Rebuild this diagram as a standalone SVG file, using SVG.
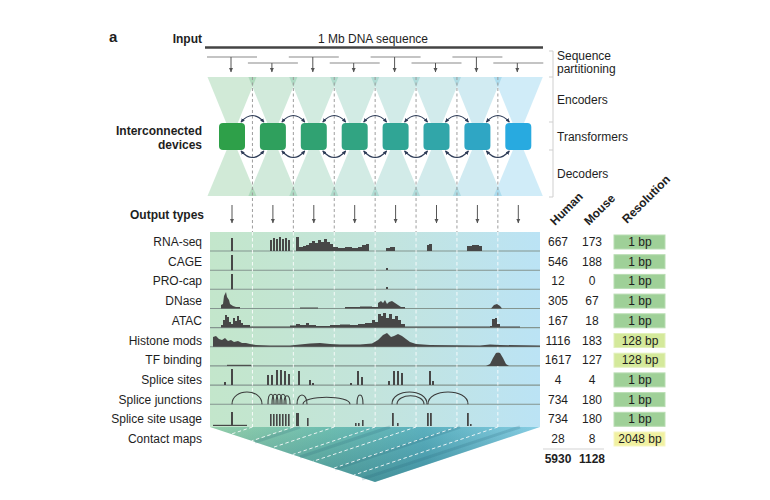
<svg xmlns="http://www.w3.org/2000/svg" width="770" height="500" viewBox="0 0 770 500">
<style>
text{font-family:"Liberation Sans",Arial,sans-serif;fill:#1e1e1e;font-size:12px}
.b{font-weight:bold}
.r{text-anchor:end}
.m{text-anchor:middle}
.part{stroke:#8a8a8a;stroke-width:1.2;fill:none}
.arr{stroke:#555;stroke-width:1;fill:none;marker-end:url(#ah)}
.tarc{stroke:#2e3c57;stroke-width:1.2;fill:none;marker-start:url(#ta);marker-end:url(#ta)}
.dg{stroke:#9e9e9e;stroke-width:1;stroke-dasharray:3,2.5;fill:none}
.dw{stroke:#ffffff;stroke-width:1;stroke-dasharray:3.5,2.5;fill:none;opacity:.85}
.sep{stroke:#84958f;stroke-width:1.1}
.sig{fill:#474747}
.jn{stroke:#3a3a3a;stroke-width:1.1;fill:none}
.res1{fill:#9fd098;stroke:#b9ddb3;stroke-width:1}
.res2{fill:#d4e99b;stroke:#e2f0bb;stroke-width:1}
.res3{fill:#f1f1a2;stroke:#f6f6c4;stroke-width:1}
.tri{opacity:.22}
</style>
<defs>
<marker id="ah" markerWidth="5" markerHeight="5" refX="4.5" refY="2.5" orient="auto" markerUnits="userSpaceOnUse"><path d="M0,0.3 L4.8,2.5 L0,4.7 z" fill="#555"/></marker>
<marker id="ta" markerWidth="5" markerHeight="5" refX="3.5" refY="2.5" orient="auto-start-reverse" markerUnits="userSpaceOnUse"><path d="M0,0.6 L4,2.5 L0,4.4 z" fill="#2e3c57"/></marker>
<linearGradient id="tbg" x1="0" y1="0" x2="1" y2="0">
<stop offset="0" stop-color="#c3e6cb"/><stop offset="0.5" stop-color="#c3e4dc"/><stop offset="1" stop-color="#bbe3f5"/>
</linearGradient>
<linearGradient id="cm" x1="0" y1="0" x2="1" y2="0">
<stop offset="0" stop-color="#94cfaa"/><stop offset="0.35" stop-color="#6fbeb0"/><stop offset="0.65" stop-color="#5cb1bf"/><stop offset="1" stop-color="#88cee4"/>
</linearGradient>
<linearGradient id="cmv" x1="0" y1="0" x2="0" y2="1">
<stop offset="0" stop-color="#0d4f66" stop-opacity="0"/><stop offset="1" stop-color="#0d4f66" stop-opacity="0.35"/>
</linearGradient>
</defs>

<!-- labels -->
<text x="109" y="42" class="b" style="font-size:15px">a</text>
<text x="202" y="43" class="b r">Input</text>
<text x="373" y="43" class="m">1 Mb DNA sequence</text>
<text x="202" y="135" class="b r">Interconnected</text>
<text x="202" y="149" class="b r">devices</text>
<text x="204" y="219" class="b r">Output types</text>

<g id="stage-labels">
<path d="M549,51 H553 V197 H549 M549,77 H553 M549,122 H553 M549,150 H553" stroke="#cfcfcf" stroke-width="1" fill="none"/>
<text x="557" y="60">Sequence</text>
<text x="557" y="73">partitioning</text>
<text x="557" y="104">Encoders</text>
<text x="557" y="141">Transformers</text>
<text x="557" y="178">Decoders</text>
</g>

<!-- input -->
<g id="input">
<line x1="205" y1="47.5" x2="543" y2="47.5" stroke="#444" stroke-width="2.6"/>
</g>

<!-- encoders / decoders -->
<g id="encoders">
<polygon class="tri" fill="#2ea049" points="207.5,77 256.5,77 232,137"/>
<polygon class="tri" fill="#2fa05d" points="248.4,77 297.4,77 272.9,137"/>
<polygon class="tri" fill="#30a272" points="289.3,77 338.3,77 313.8,137"/>
<polygon class="tri" fill="#31a482" points="330.2,77 379.2,77 354.7,137"/>
<polygon class="tri" fill="#30a595" points="371.1,77 420.1,77 395.6,137"/>
<polygon class="tri" fill="#31a6a9" points="412,77 461,77 436.5,137"/>
<polygon class="tri" fill="#2fa6c4" points="452.9,77 501.9,77 477.4,137"/>
<polygon class="tri" fill="#28aae0" points="493.8,77 542.8,77 518.3,137"/>
</g>
<g id="decoders">
<polygon class="tri" fill="#2ea049" points="207.5,196 256.5,196 232,137"/>
<polygon class="tri" fill="#2fa05d" points="248.4,196 297.4,196 272.9,137"/>
<polygon class="tri" fill="#30a272" points="289.3,196 338.3,196 313.8,137"/>
<polygon class="tri" fill="#31a482" points="330.2,196 379.2,196 354.7,137"/>
<polygon class="tri" fill="#30a595" points="371.1,196 420.1,196 395.6,137"/>
<polygon class="tri" fill="#31a6a9" points="412,196 461,196 436.5,137"/>
<polygon class="tri" fill="#2fa6c4" points="452.9,196 501.9,196 477.4,137"/>
<polygon class="tri" fill="#28aae0" points="493.8,196 542.8,196 518.3,137"/>
</g>

<!-- tracks background -->
<g id="tracks">
<rect x="210" y="232" width="330" height="195" fill="url(#tbg)"/>
<g class="sep">
<line x1="210" y1="251" x2="540" y2="251"/>
<line x1="210" y1="270.2" x2="540" y2="270.2"/>
<line x1="210" y1="289.3" x2="540" y2="289.3"/>
<line x1="210" y1="308.5" x2="540" y2="308.5"/>
<line x1="210" y1="327.6" x2="540" y2="327.6"/>
<line x1="210" y1="346.8" x2="540" y2="346.8"/>
<line x1="210" y1="365.9" x2="540" y2="365.9"/>
<line x1="210" y1="385.1" x2="540" y2="385.1"/>
<line x1="210" y1="404.2" x2="540" y2="404.2"/>
</g>
</g>

<!-- contact map -->
<g id="contact-map">
<polygon points="210,427 540,427 375,482" fill="url(#cm)"/>
<polygon points="210,427 540,427 375,482" fill="url(#cmv)"/>
<g stroke="#1f5f72" stroke-opacity="0.18" stroke-width="3" fill="none">
<line x1="300" y1="427" x2="255" y2="442"/>
<line x1="390" y1="427" x2="300" y2="457"/>
<line x1="460" y1="427" x2="335" y2="469"/>
<line x1="520" y1="427" x2="362" y2="479"/>
</g>
<g class="dw">
<line x1="252.45" y1="427" x2="231.2" y2="434.1"/>
<line x1="293.35" y1="427" x2="251.7" y2="440.9"/>
<line x1="334.25" y1="427" x2="272.1" y2="447.7"/>
<line x1="375.15" y1="427" x2="292.7" y2="454.5"/>
<line x1="416.05" y1="427" x2="313" y2="461.3"/>
<line x1="456.95" y1="427" x2="333.5" y2="468.2"/>
<line x1="497.85" y1="427" x2="353.9" y2="475"/>
</g>
</g>

<!-- dashed boundaries -->
<g id="boundaries">
<g class="dg">
<line x1="252.45" y1="77" x2="252.45" y2="232"/>
<line x1="293.35" y1="77" x2="293.35" y2="232"/>
<line x1="334.25" y1="77" x2="334.25" y2="232"/>
<line x1="375.15" y1="77" x2="375.15" y2="232"/>
<line x1="416.05" y1="77" x2="416.05" y2="232"/>
<line x1="456.95" y1="77" x2="456.95" y2="232"/>
<line x1="497.85" y1="77" x2="497.85" y2="232"/>
</g>
<g class="dw">
<line x1="252.45" y1="232" x2="252.45" y2="427"/>
<line x1="293.35" y1="232" x2="293.35" y2="427"/>
<line x1="334.25" y1="232" x2="334.25" y2="427"/>
<line x1="375.15" y1="232" x2="375.15" y2="427"/>
<line x1="416.05" y1="232" x2="416.05" y2="427"/>
<line x1="456.95" y1="232" x2="456.95" y2="427"/>
<line x1="497.85" y1="232" x2="497.85" y2="427"/>
</g>
</g>

<!-- signals -->
<g id="signals" class="sig">
<!-- RNA-seq -->
<path d="M231,251 V238 H233 V251 Z"/>
<rect x="270" y="240" width="2" height="11"/><rect x="273" y="238" width="2" height="13"/><rect x="276" y="239" width="2" height="12"/><rect x="279" y="237" width="2" height="14"/><rect x="282" y="239" width="2" height="12"/><rect x="285" y="238" width="2" height="13"/><rect x="288" y="240" width="2" height="11"/>
<path d="M296,251 V237 H299 V247 H303 V246 H306 V245 H309 V243 H312 V241 H315 V243 H318 V240 H321 V242 H324 V239 H327 V242 H330 V244 H333 V247 H338 V248 H345 V247 H352 V248 H358 V247 H362 V245 H366 V244 H369 V251 Z"/>
<path d="M386,251 V248 H390 V247 H395 V251 Z"/>
<path d="M427,251 V245 H429 V244 H432 V251 Z"/>
<path d="M467,251 V246 H472 V245 H479 V246 H482 V251 Z"/>
<!-- CAGE -->
<path d="M231,270.2 V255 H233 V270.2 Z"/><rect x="386" y="268" width="2" height="2"/>
<!-- PRO-cap -->
<path d="M231,289.3 V274 H233 V289.3 Z"/><rect x="386" y="287" width="2" height="2"/>
<!-- DNase -->
<path d="M221,308.5 V305 L223,304 L224,296 L226,292 L227,297 L229,300 L230,304 L233,306 L236,307 H240 V308.5 Z"/>
<path d="M300,308.5 V307.5 H318 V308.5 Z"/>
<path d="M345,308.5 V307 H360 V306.5 H372 V307 H378 V303 L381,301 L383,303 L385,300 L387,304 L389,302 L392,301 L395,303 L398,305 L401,307 H405 V308.5 Z"/>
<path d="M491,308.5 L494,305 L497,304 L500,306 L502,308.5 Z"/>
<!-- ATAC -->
<path d="M221,327.6 V325 H223 V320 H225 V315 H227 V317 H229 V322 H231 V324 H233 V318 H235 V321 H237 V316 H239 V320 H241 V323 H243 V325 H250 V326.5 H290 V325.5 H296 V324 H300 V325 H306 V323 H309 V325 H316 V326 H330 V325 H340 V324.5 H350 V325 H358 V324 H365 V323 H372 V320 H375 V322 H378 V314 H381 V316 H383 V313 H386 V318 H389 V314 H392 V319 H395 V316 H398 V320 H401 V324 H405 V326.5 H490 V326 H492 V319 H495 V318 H497 V324 H500 V326.5 H520 V327.6 Z"/>
<!-- Histone -->
<path d="M213,346.8 V337 L216,336 L219,339 L222,340 L225,338 L228,341 L231,340 L234,342 L238,341 L242,343 L246,343 L250,344 L256,345 L270,345.5 L290,345.5 L300,344.5 L310,343.5 L320,343 L330,344 L340,344.5 L360,344.5 L372,343.5 L378,340 L383,335 L387,333 L391,337 L394,336 L398,334 L402,336 L406,339 L410,342 L416,344 L430,345 L480,345.5 L490,344.5 L500,345 L540,345.5 V346.8 Z"/>
<!-- TF binding -->
<path d="M227,365.9 V364.8 H251 V365.9 Z"/>
<path d="M486,365.9 L490,364 L493,358 L496,353 L498,352.5 L500,353 L503,358 L506,364 L509,365.9 Z"/>
<!-- Splice sites -->
<rect x="224" y="382" width="2" height="3"/><rect x="231" y="369" width="2" height="16"/><rect x="267" y="375" width="2" height="10"/><rect x="271" y="375" width="2" height="10"/><rect x="276" y="370" width="2" height="15"/><rect x="280" y="370" width="2" height="15"/><rect x="284" y="371" width="2" height="14"/><rect x="288" y="374" width="2" height="11"/><rect x="298" y="371" width="2" height="14"/><rect x="309" y="380" width="2" height="5"/><rect x="312" y="383" width="2" height="2"/><rect x="350" y="383" width="2" height="2"/><rect x="357" y="371" width="2" height="14"/><rect x="361" y="377" width="2" height="8"/><rect x="388" y="381" width="2" height="4"/><rect x="393" y="371" width="2" height="14"/><rect x="397" y="371" width="2" height="14"/><rect x="401" y="373" width="2" height="12"/><rect x="429" y="371" width="2" height="14"/><rect x="432" y="381" width="2" height="4"/>
<!-- Splice site usage -->
<rect x="213" y="424.8" width="34" height="1.2"/>
<rect x="231" y="412" width="2" height="14"/><rect x="270" y="414" width="1.6" height="12"/><rect x="273" y="414" width="1.6" height="12"/><rect x="276" y="414" width="1.6" height="12"/><rect x="279" y="414" width="1.6" height="12"/><rect x="282" y="414" width="1.6" height="12"/><rect x="285" y="414" width="1.6" height="12"/><rect x="288" y="414" width="1.6" height="12"/><rect x="296" y="413" width="3" height="13"/><rect x="307" y="418" width="1.6" height="8"/><rect x="355" y="423" width="1.6" height="3"/><rect x="358" y="423" width="1.6" height="3"/><rect x="362" y="420" width="1.6" height="6"/><rect x="392" y="413" width="1.8" height="13"/><rect x="397" y="423" width="1.6" height="3"/><rect x="427" y="413" width="1.8" height="13"/><rect x="430" y="413" width="1.8" height="13"/><rect x="467" y="413" width="1.8" height="13"/><rect x="470" y="424" width="1.6" height="2"/>
</g>
<!-- Splice junctions arcs -->
<g id="junctions" class="jn">
<path d="M232,404.2 C232,388 262,388 262,404.2"/>
<path d="M268,404.2 C268,391 274,391 274,404.2"/>
<path d="M272,404.2 C272,391 278,391 278,404.2"/>
<path d="M276,404.2 C276,391 282,391 282,404.2"/>
<path d="M280,404.2 C280,391 286,391 286,404.2"/>
<path d="M284,404.2 C284,393 290,393 290,404.2"/>
<path d="M297,404.2 C297,392 307,392 307,404.2"/>
<path d="M303,404.2 C303,395 350,395 350,404.2"/>
<path d="M357,404.2 C357,392 363,392 363,404.2"/>
<path d="M392,404.2 C392,388 427,388 427,404.2"/>
<path d="M397,404.2 C397,393 424,393 424,404.2"/>
<path d="M428,404.2 C428,388 468,388 468,404.2"/>
</g>

<!-- connectors -->
<g id="connectors">
<g class="part">
<line x1="207" y1="57" x2="257" y2="57"/>
<line x1="247.9" y1="63" x2="297.9" y2="63"/>
<line x1="288.8" y1="57" x2="338.8" y2="57"/>
<line x1="329.7" y1="63" x2="379.7" y2="63"/>
<line x1="370.6" y1="57" x2="420.6" y2="57"/>
<line x1="411.5" y1="63" x2="461.5" y2="63"/>
<line x1="452.4" y1="57" x2="502.4" y2="57"/>
<line x1="493.3" y1="63" x2="543.3" y2="63"/>
</g>
<line class="arr" x1="231" y1="57" x2="231" y2="72"/>
<line class="arr" x1="271.9" y1="63" x2="271.9" y2="72"/>
<line class="arr" x1="312.8" y1="57" x2="312.8" y2="72"/>
<line class="arr" x1="353.7" y1="63" x2="353.7" y2="72"/>
<line class="arr" x1="394.6" y1="57" x2="394.6" y2="72"/>
<line class="arr" x1="435.5" y1="63" x2="435.5" y2="72"/>
<line class="arr" x1="476.4" y1="57" x2="476.4" y2="72"/>
<line class="arr" x1="517.3" y1="63" x2="517.3" y2="72"/>

<line class="arr" x1="232" y1="205" x2="232" y2="223"/>
<line class="arr" x1="272.9" y1="205" x2="272.9" y2="223"/>
<line class="arr" x1="313.8" y1="205" x2="313.8" y2="223"/>
<line class="arr" x1="354.7" y1="205" x2="354.7" y2="223"/>
<line class="arr" x1="395.6" y1="205" x2="395.6" y2="223"/>
<line class="arr" x1="436.5" y1="205" x2="436.5" y2="223"/>
<line class="arr" x1="477.4" y1="205" x2="477.4" y2="223"/>
<line class="arr" x1="518.3" y1="205" x2="518.3" y2="223"/>

<path class="tarc" d="M241,122 Q252.45,109 263.9,122"/>
<path class="tarc" d="M281.9,122 Q293.35,109 304.8,122"/>
<path class="tarc" d="M322.8,122 Q334.25,109 345.7,122"/>
<path class="tarc" d="M363.7,122 Q375.15,109 386.6,122"/>
<path class="tarc" d="M404.6,122 Q416.05,109 427.5,122"/>
<path class="tarc" d="M445.5,122 Q456.95,109 468.4,122"/>
<path class="tarc" d="M486.4,122 Q497.85,109 509.3,122"/>
<path class="tarc" d="M241,151 Q252.45,164 263.9,151"/>
<path class="tarc" d="M281.9,151 Q293.35,164 304.8,151"/>
<path class="tarc" d="M322.8,151 Q334.25,164 345.7,151"/>
<path class="tarc" d="M363.7,151 Q375.15,164 386.6,151"/>
<path class="tarc" d="M404.6,151 Q416.05,164 427.5,151"/>
<path class="tarc" d="M445.5,151 Q456.95,164 468.4,151"/>
<path class="tarc" d="M486.4,151 Q497.85,164 509.3,151"/>
</g>

<!-- devices -->
<g id="device-1"><rect x="219" y="123" width="26" height="27" rx="4" fill="#2ea049"/></g>
<g id="device-2"><rect x="259.9" y="123" width="26" height="27" rx="4" fill="#2fa05d"/></g>
<g id="device-3"><rect x="300.8" y="123" width="26" height="27" rx="4" fill="#30a272"/></g>
<g id="device-4"><rect x="341.7" y="123" width="26" height="27" rx="4" fill="#31a482"/></g>
<g id="device-5"><rect x="382.6" y="123" width="26" height="27" rx="4" fill="#30a595"/></g>
<g id="device-6"><rect x="423.5" y="123" width="26" height="27" rx="4" fill="#31a6a9"/></g>
<g id="device-7"><rect x="464.4" y="123" width="26" height="27" rx="4" fill="#2fa6c4"/></g>
<g id="device-8"><rect x="505.3" y="123" width="26" height="27" rx="4" fill="#28aae0"/></g>

<!-- track labels -->
<g id="track-labels">
<text x="202" y="246" class="r">RNA-seq</text>
<text x="202" y="265.7" class="r">CAGE</text>
<text x="202" y="285.4" class="r">PRO-cap</text>
<text x="202" y="305.1" class="r">DNase</text>
<text x="202" y="324.8" class="r">ATAC</text>
<text x="202" y="344.5" class="r">Histone mods</text>
<text x="202" y="364.2" class="r">TF binding</text>
<text x="202" y="383.9" class="r">Splice sites</text>
<text x="202" y="403.6" class="r">Splice junctions</text>
<text x="202" y="423.3" class="r">Splice site usage</text>
<text x="202" y="443" class="r">Contact maps</text>
</g>

<!-- table -->
<g id="table">
<text class="b" transform="translate(555,226) rotate(-45)">Human</text>
<text class="b" transform="translate(589,226) rotate(-45)">Mouse</text>
<text class="b" transform="translate(627,224) rotate(-45)">Resolution</text>
<text x="558" y="246" class="m">667</text><text x="592" y="246" class="m">173</text>
<text x="558" y="265.7" class="m">546</text><text x="592" y="265.7" class="m">188</text>
<text x="558" y="285.4" class="m">12</text><text x="592" y="285.4" class="m">0</text>
<text x="558" y="305.1" class="m">305</text><text x="592" y="305.1" class="m">67</text>
<text x="558" y="324.8" class="m">167</text><text x="592" y="324.8" class="m">18</text>
<text x="558" y="344.5" class="m">1116</text><text x="592" y="344.5" class="m">183</text>
<text x="558" y="364.2" class="m">1617</text><text x="592" y="364.2" class="m">127</text>
<text x="558" y="383.9" class="m">4</text><text x="592" y="383.9" class="m">4</text>
<text x="558" y="403.6" class="m">734</text><text x="592" y="403.6" class="m">180</text>
<text x="558" y="423.3" class="m">734</text><text x="592" y="423.3" class="m">180</text>
<text x="558" y="443" class="m">28</text><text x="592" y="443" class="m">8</text>
<line x1="543" y1="449" x2="604" y2="449" stroke="#e2e2e2" stroke-width="1.5"/>
<text x="558" y="463" class="b m">5930</text><text x="592" y="463" class="b m">1128</text>
<rect class="res1" x="614" y="235" width="51" height="14"/><text x="640" y="246" class="m">1 bp</text>
<rect class="res1" x="614" y="254.7" width="51" height="14"/><text x="640" y="265.7" class="m">1 bp</text>
<rect class="res1" x="614" y="274.4" width="51" height="14"/><text x="640" y="285.4" class="m">1 bp</text>
<rect class="res1" x="614" y="294.1" width="51" height="14"/><text x="640" y="305.1" class="m">1 bp</text>
<rect class="res1" x="614" y="313.8" width="51" height="14"/><text x="640" y="324.8" class="m">1 bp</text>
<rect class="res2" x="614" y="333.5" width="51" height="14"/><text x="640" y="344.5" class="m">128 bp</text>
<rect class="res2" x="614" y="353.2" width="51" height="14"/><text x="640" y="364.2" class="m">128 bp</text>
<rect class="res1" x="614" y="372.9" width="51" height="14"/><text x="640" y="383.9" class="m">1 bp</text>
<rect class="res1" x="614" y="392.6" width="51" height="14"/><text x="640" y="403.6" class="m">1 bp</text>
<rect class="res1" x="614" y="412.3" width="51" height="14"/><text x="640" y="423.3" class="m">1 bp</text>
<rect class="res3" x="614" y="432" width="51" height="14"/><text x="640" y="443" class="m">2048 bp</text>
</g>
</svg>
